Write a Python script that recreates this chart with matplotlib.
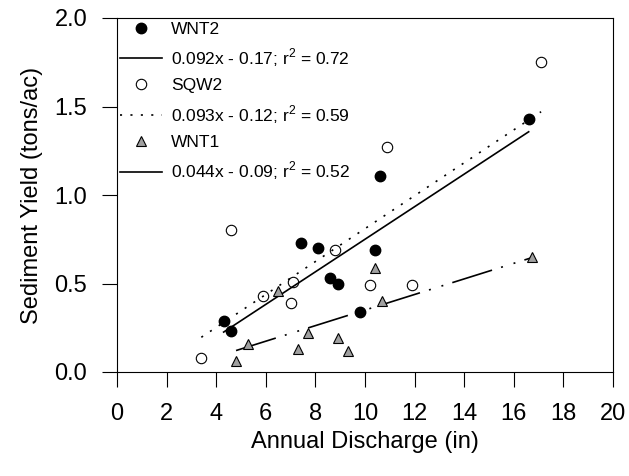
import matplotlib
matplotlib.use("Agg")
import matplotlib.pyplot as plt
from matplotlib.lines import Line2D
import numpy as np

plt.rcParams['font.family'] = ['Liberation Sans', 'DejaVu Sans']
plt.rcParams['lines.scale_dashes'] = False

# annual discharge (in) and sediment yield (tons/ac) per site
wnt2_x = [4.3, 4.6, 7.4, 8.1, 8.6, 8.9, 9.8, 10.4, 10.6, 16.6]
wnt2_y = [0.29, 0.23, 0.73, 0.70, 0.53, 0.50, 0.34, 0.69, 1.11, 1.43]

sqw2_x = [3.4, 4.6, 5.9, 7.1, 7.0, 8.8, 10.2, 11.9, 10.9, 17.1]
sqw2_y = [0.08, 0.80, 0.43, 0.51, 0.39, 0.69, 0.49, 0.49, 1.27, 1.75]

wnt1_x = [4.8, 5.3, 6.5, 7.3, 7.7, 8.9, 9.3, 10.4, 10.7, 16.75]
wnt1_y = [0.06, 0.16, 0.46, 0.13, 0.22, 0.19, 0.12, 0.59, 0.40, 0.65]

# regression fits: slope, intercept, r^2
fits = {
    'WNT2': (0.092, -0.17, 0.72),
    'SQW2': (0.093, -0.12, 0.59),
    'WNT1': (0.044, -0.09, 0.52),
}

xticks = np.arange(0, 21, 2)
yticks = np.arange(0, 2.01, 0.5)

fig = plt.figure(figsize=(6.29, 4.76), dpi=100)
ax = fig.add_axes([117 / 629, 1 - 372 / 476, 496 / 629, 354 / 476])

dotted = (0, (1.5, 6.0))
dashdotdot = (0, (30, 6.8, 1.4, 8, 1.4, 6.8))
styles = {'WNT2': '-', 'SQW2': dotted, 'WNT1': dashdotdot}
tri_grey = '#a0a0a0'

ax.plot(wnt2_x, wnt2_y, 'o', ms=7.5, mfc='black', mec='black', zorder=3)
ax.plot(sqw2_x, sqw2_y, 'o', ms=7.5, mfc='none', mec='black', mew=0.8, zorder=3)
ax.plot(wnt1_x, wnt1_y, '^', ms=7, mfc=tri_grey, mec='black', mew=0.8, zorder=3)

for name, xs in [('WNT2', wnt2_x), ('SQW2', sqw2_x), ('WNT1', wnt1_x)]:
    m, b, r2 = fits[name]
    xl = np.array([min(xs), max(xs)])
    ax.plot(xl, m * xl + b, color='black', lw=1.2, linestyle=styles[name], zorder=2)

def fit_label(name):
    m, b, r2 = fits[name]
    return f'{m:.3f}x - {abs(b):.2f}; r$^\\mathregular{{2}}$ = {r2:.2f}'

handles = [
    Line2D([], [], ls='none', marker='o', ms=7.5, mfc='black', mec='black'),
    Line2D([], [], color='black', lw=1.2, ls='-'),
    Line2D([], [], ls='none', marker='o', ms=7.5, mfc='none', mec='black', mew=0.8),
    Line2D([], [], color='black', lw=1.2, ls=dotted),
    Line2D([], [], ls='none', marker='^', ms=7, mfc=tri_grey, mec='black', mew=0.8),
    Line2D([], [], color='black', lw=1.2, ls='-'),
]
labels = ['WNT2', fit_label('WNT2'), 'SQW2', fit_label('SQW2'), 'WNT1', fit_label('WNT1')]
ax.legend(handles, labels, loc='upper left', bbox_to_anchor=(0.0, 1.0), frameon=False,
          fontsize=12.5, handlelength=2.4, handletextpad=0.5, labelspacing=0.55,
          borderaxespad=0.1, borderpad=0.1)

ax.set_xlim(0, 20)
ax.set_ylim(0, 2.0)
ax.set_xticks(xticks)
ax.set_yticks(yticks)
ax.set_yticklabels([f'{v:.1f}' for v in yticks])
ax.tick_params(axis='both', direction='out', length=10.5, width=0.8, labelsize=17)
ax.tick_params(axis='x', pad=12)
ax.tick_params(axis='y', pad=11)
for s in ax.spines.values():
    s.set_linewidth(0.8)

ax.set_xlabel('Annual Discharge (in)', fontsize=17, labelpad=4)
ax.set_ylabel('Sediment Yield (tons/ac)', fontsize=17, labelpad=8)

fig.savefig('out.png', dpi=100)
